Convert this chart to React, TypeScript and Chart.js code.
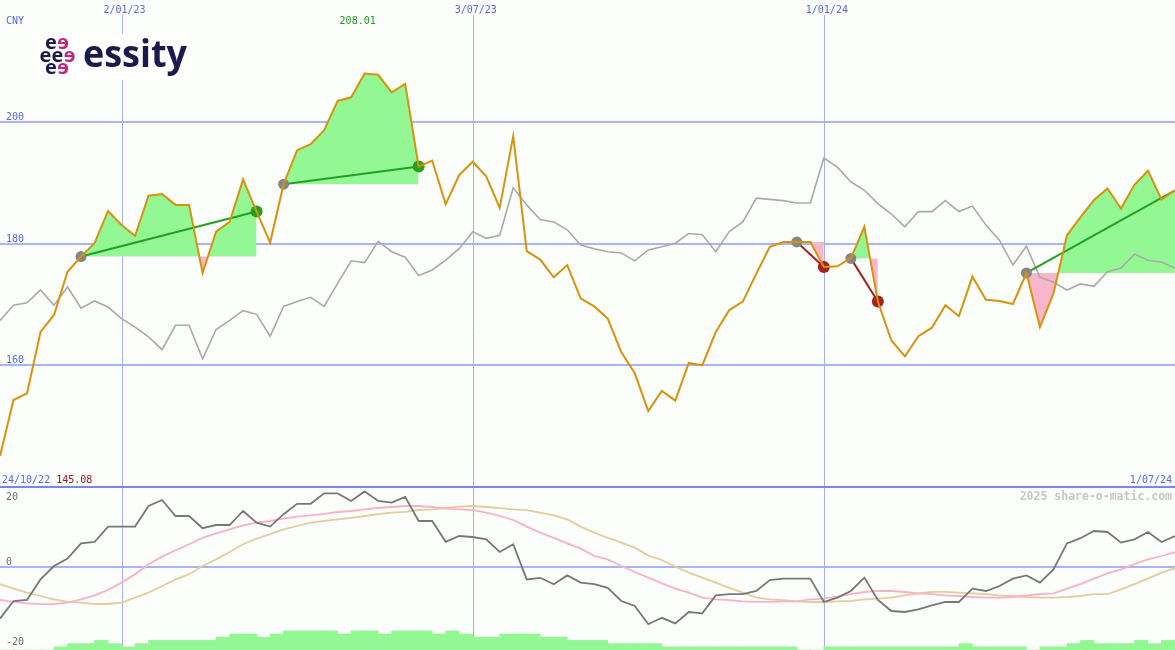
import React, { useEffect, useRef } from 'react';
import { Chart, registerables } from 'chart.js';

Chart.register(...registerables);

// ---------- data (weekly points, index 0 .. 87) ----------
const PRICE = [
  145.08, 154.3, 155.4, 165.5, 168.3, 175.4, 177.9, 180.1, 185.4, 183.1,
  181.3, 187.9, 188.2, 186.4, 186.4, 175.2, 182.0, 183.6, 190.6, 185.3,
  180.2, 189.8, 195.4, 196.4, 198.7, 203.5, 204.1, 208.01, 207.8, 204.9,
  206.3, 192.7, 193.7, 186.5, 191.3, 193.5, 191.1, 185.9, 197.7, 178.8,
  177.4, 174.5, 176.5, 171.0, 169.7, 167.7, 162.2, 158.7, 152.5, 155.8,
  154.2, 160.4, 160.0, 165.5, 169.1, 170.5, 175.1, 179.5, 180.3, 180.3,
  180.3, 176.2, 176.3, 177.6, 182.8, 170.5, 164.1, 161.5, 164.8, 166.2,
  169.9, 168.1, 174.6, 170.8, 170.6, 170.1, 175.2, 166.3, 171.8, 181.4,
  184.4, 187.2, 189.1, 185.8, 189.7, 192.0, 187.3, 188.8,
];

const RELATIVE = [
  167.4, 169.9, 170.3, 172.4, 169.9, 172.9, 169.4, 170.6, 169.6, 167.7,
  166.3, 164.7, 162.6, 166.6, 166.6, 161.1, 165.9, 167.4, 169.0, 168.4,
  164.8, 169.7, 170.5, 171.2, 169.7, 173.5, 177.2, 176.9, 180.4, 178.7,
  177.8, 174.8, 175.7, 177.3, 179.2, 182.0, 180.9, 181.4, 189.2, 186.4,
  184.0, 183.6, 182.3, 179.8, 179.2, 178.7, 178.5, 177.2, 179.0, 179.5,
  180.1, 181.7, 181.5, 178.7, 182.0, 183.6, 187.5, 187.3, 187.1, 186.7,
  186.7, 194.1, 192.6, 190.2, 188.8, 186.6, 184.9, 182.8, 185.3, 185.3,
  187.1, 185.3, 186.2, 183.1, 180.6, 176.5, 179.6, 174.5, 173.7, 172.4,
  173.4, 173.0, 175.4, 176.0, 178.3, 177.3, 177.0, 176.0,
];

const MOMENTUM = [
  -12.9, -8.5, -8.25, -3.1, 0.25, 2.1, 5.9, 6.25, 10.1, 10.1,
  10.1, 15.25, 16.75, 12.75, 12.75, 9.7, 10.5, 10.5, 14.0, 11.1,
  10.1, 13.2, 15.8, 15.8, 18.4, 18.4, 16.5, 18.9, 16.5, 16.1,
  17.5, 11.5, 11.5, 6.3, 7.75, 7.5, 6.9, 3.75, 5.7, -3.1,
  -2.7, -4.3, -2.1, -3.9, -4.3, -5.2, -8.5, -9.75, -14.3, -12.7,
  -14.1, -11.25, -11.6, -7.1, -6.8, -6.8, -6.0, -3.25, -2.9, -2.9,
  -2.9, -8.75, -7.65, -6.0, -2.65, -8.25, -11.0, -11.25, -10.6, -9.6,
  -8.75, -8.75, -5.4, -6.0, -4.75, -2.9, -2.1, -3.9, -0.6, 5.9,
  7.2, 9.0, 8.75, 6.1, 6.9, 8.75, 6.25, 7.75,
];

const SIGNAL_FAST = [
  -8.25, -8.7, -9.1, -9.3, -9.3, -8.9, -8.1, -7.1, -5.75, -3.9,
  -1.8, 0.7, 2.6, 4.2, 5.7, 7.3, 8.4, 9.4, 10.4, 11.1,
  11.5, 12.1, 12.6, 12.9, 13.3, 13.75, 14.0, 14.4, 14.75, 15.0,
  15.25, 15.25, 15.0, 14.6, 14.4, 14.2, 13.6, 12.75, 11.75, 10.1,
  8.6, 7.3, 5.9, 4.6, 2.75, 1.9, 0.25, -1.25, -2.65, -4.1,
  -5.4, -6.4, -7.65, -8.1, -8.3, -8.6, -8.7, -8.7, -8.6, -8.6,
  -8.1, -7.9, -7.4, -6.8, -6.25, -6.0, -6.0, -6.25, -6.6, -6.8,
  -7.1, -7.25, -7.5, -7.65, -7.65, -7.5, -7.1, -6.8, -6.6, -5.4,
  -4.3, -2.9, -1.6, -0.6, 0.7, 1.9, 2.75, 3.75,
];

const SIGNAL_SLOW = [
  -4.3, -5.4, -6.4, -7.25, -8.1, -8.7, -8.9, -9.25, -9.25, -8.9,
  -7.65, -6.4, -4.75, -3.1, -1.8, 0.25, 1.9, 3.75, 5.7, 7.1,
  8.2, 9.4, 10.25, 11.1, 11.5, 11.9, 12.3, 12.75, 13.2, 13.6,
  13.8, 14.25, 14.4, 14.75, 15.1, 15.25, 15.0, 14.7, 14.4, 14.2,
  13.6, 12.9, 11.9, 10.1, 8.6, 7.3, 6.1, 4.85, 2.9, 1.75,
  0.1, -1.4, -2.65, -3.9, -5.2, -6.4, -7.65, -8.1, -8.3, -8.6,
  -8.75, -8.75, -8.6, -8.5, -8.1, -7.9, -7.65, -7.1, -6.6, -6.2,
  -6.2, -6.4, -6.6, -6.8, -7.1, -7.25, -7.5, -7.65, -7.65, -7.5,
  -7.25, -6.8, -6.8, -5.6, -4.3, -2.9, -1.4, -0.3,
];

// activity bars, one per week interval (level units)
const VOLUME_LEVEL = [
  0, 0, 0, 0, 1, 2, 2, 3, 2, 1,
  2, 3, 3, 3, 3, 3, 4, 5, 5, 4,
  5, 6, 6, 6, 6, 5, 6, 6, 5, 6,
  6, 6, 5, 6, 5, 4, 4, 5, 5, 5,
  4, 4, 3, 3, 3, 2, 2, 2, 2, 1,
  1, 1, 1, 1, 1, 1, 1, 1, 1, 0,
  0, 1, 1, 1, 1, 1, 1, 1, 1, 1,
  1, 2, 1, 1, 1, 1, 0, 1, 1, 2,
  3, 2, 2, 2, 3, 2, 3,
];

const TRADE_ENTRY = [6, 21, 59, 63, 76];
const TRADE_EXIT = [19, 31, 61, 65, 87];
const TRADE_OPEN = [false, false, false, false, true];

const DATE_TICK_POS = [9, 35, 61];
const DATE_TICK_LABELS = ['2/01/23', '3/07/23', '1/01/24'];
const PRICE_GRID = [200, 180, 160];
const OSC_TICKS = [20, 0, -20];
const FIRST_DATE = '24/10/22';
const LAST_DATE = '1/07/24';
const CURRENCY = 'CNY';
const WATERMARK = '2025 share-o-matic.com';

const X_MAX = PRICE.length - 1;
const Y_MIN = 140;
const Y_MAX = 220.1;
const Y2_MIN = -20.75;
const Y2_MAX = 20;
const VOL_UNIT = 0.8;

// ---------- styles ----------
const BG = '#fcfefc';
const GRID = '#a9b5f3';
const VGRID = '#a3b0f3';
const SEP = '#7686ee';
const BLUE = '#5566ee';
const PRICE_COLOR = '#d8920c';
const REL_COLOR = '#a9a9a9';
const FILL_UP = '#93f893';
const FILL_DOWN = '#f8b6ca';
const WIN = '#22a022';
const LOSS = '#a32222';
const ENTRY_DOT = '#868686';
const MONO = '"DejaVu Sans Mono", "Liberation Mono", monospace';

const pts = (arr: number[]) => arr.map((v, i) => ({ x: i, y: v }));

function drawLogo(ctx: CanvasRenderingContext2D) {
  ctx.save();
  ctx.fillStyle = '#ffffff';
  ctx.fillRect(36, 34, 154, 46);
  const navy = '#1c1a4c';
  const mag = '#c4267c';
  ctx.font = 'bold 20px "Open Sans", sans-serif';
  ctx.textAlign = 'center';
  ctx.textBaseline = 'alphabetic';
  const es: [number, number, string, boolean][] = [
    [51, 49, navy, false], [63, 49, mag, true],
    [45.5, 61.5, navy, false], [57.5, 61.5, navy, false], [69.5, 61.5, mag, true],
    [51, 74, navy, false], [63, 74, mag, true],
  ];
  for (const [x, y, c, m] of es) {
    ctx.fillStyle = c;
    if (m) {
      ctx.save();
      ctx.translate(x, y);
      ctx.scale(-1, 1);
      ctx.fillText('e', 0, 0);
      ctx.restore();
    } else {
      ctx.fillText('e', x, y);
    }
  }
  ctx.font = 'bold 38px "Open Sans", sans-serif';
  ctx.textAlign = 'left';
  ctx.fillStyle = navy;
  const w = ctx.measureText('essity').width;
  ctx.translate(83, 67);
  ctx.scale(104 / w, 1);
  ctx.fillText('essity', 0, 0);
  ctx.restore();
}

const decorPlugin = {
  id: 'decor',
  beforeDraw(chart: any) {
    const { ctx, width, height } = chart;
    ctx.save();
    ctx.fillStyle = BG;
    ctx.fillRect(0, 0, width, height);
    ctx.restore();
  },
  beforeDatasetsDraw(chart: any) {
    const { ctx, width, height } = chart;
    const xs = chart.scales.x;
    const ys = chart.scales.y;
    const y2 = chart.scales.y2;
    ctx.save();
    ctx.lineWidth = 2;
    ctx.strokeStyle = GRID;
    const hl = (py: number) => {
      ctx.beginPath();
      ctx.moveTo(0, py);
      ctx.lineTo(width, py);
      ctx.stroke();
    };
    PRICE_GRID.forEach((v) => hl(Math.round(ys.getPixelForValue(v))));
    hl(Math.round(y2.getPixelForValue(0)));
    ctx.lineWidth = 1;
    ctx.strokeStyle = VGRID;
    DATE_TICK_POS.forEach((p) => {
      const px = Math.round(xs.getPixelForValue(p)) + 0.5;
      ctx.beginPath();
      ctx.moveTo(px, 15);
      ctx.lineTo(px, height);
      ctx.stroke();
    });
    ctx.lineWidth = 2;
    ctx.strokeStyle = SEP;
    const sy = Math.round(ys.bottom);
    ctx.beginPath();
    ctx.moveTo(0, sy);
    ctx.lineTo(width, sy);
    ctx.stroke();
    ctx.restore();
  },
  afterDatasetsDraw(chart: any) {
    const { ctx } = chart;
    const xs = chart.scales.x;
    const ys = chart.scales.y;
    const y2 = chart.scales.y2;
    ctx.save();
    ctx.font = `10px ${MONO}`;
    ctx.textBaseline = 'alphabetic';
    ctx.textAlign = 'left';
    ctx.fillStyle = BLUE;
    ctx.fillText(CURRENCY, 6, 24);
    PRICE_GRID.forEach((v) => {
      ctx.fillText(String(v), 6, Math.round(ys.getPixelForValue(v)) - 2);
    });
    ctx.textAlign = 'center';
    DATE_TICK_POS.forEach((p, k) => {
      ctx.fillText(DATE_TICK_LABELS[k], xs.getPixelForValue(p) + 3, 13);
    });
    // max price
    let iMax = 0;
    PRICE.forEach((v, i) => { if (v > PRICE[iMax]) iMax = i; });
    ctx.fillStyle = '#1f9a1f';
    ctx.fillText(PRICE[iMax].toFixed(2), xs.getPixelForValue(iMax) - 7, 24);
    // bottom line of the price panel
    const by = Math.round(ys.bottom) - 4;
    ctx.textAlign = 'left';
    ctx.fillStyle = BLUE;
    ctx.fillText(FIRST_DATE, 2, by);
    const w = ctx.measureText(FIRST_DATE + ' ').width;
    ctx.fillStyle = '#a01414';
    ctx.fillText(PRICE[0].toFixed(2), 2 + w, by);
    ctx.textAlign = 'right';
    ctx.fillStyle = BLUE;
    ctx.fillText(LAST_DATE, 1172, by);
    // oscillator ticks
    ctx.textAlign = 'left';
    ctx.fillStyle = '#6e6e6e';
    OSC_TICKS.forEach((v) => {
      const py = Math.round(y2.getPixelForValue(v));
      ctx.fillText(String(v), 6, Math.max(py - 2, y2.top + 13));
    });
    ctx.font = `bold 11.5px ${MONO}`;
    ctx.textAlign = 'right';
    ctx.fillStyle = '#c6c6c6';
    ctx.fillText(WATERMARK, 1172, y2.top + 13);
    ctx.restore();
    drawLogo(ctx);
  },
};

export default function App() {
  const ref = useRef<HTMLCanvasElement>(null);
  useEffect(() => {
    const canvas = ref.current;
    if (!canvas) return;

    const tradeLines = TRADE_ENTRY.map((s, k) => {
      const e = TRADE_EXIT[k];
      const win = PRICE[e] >= PRICE[s];
      const c = win ? WIN : LOSS;
      return {
        type: 'line' as const,
        data: [{ x: s, y: PRICE[s] }, { x: e, y: PRICE[e] }],
        yAxisID: 'y',
        borderColor: c,
        borderWidth: 2,
        pointRadius: [5.5, TRADE_OPEN[k] ? 0 : 6],
        pointBackgroundColor: [ENTRY_DOT, c],
        pointBorderWidth: 0,
        order: 2,
      };
    });

    const tradeFills = TRADE_ENTRY.map((s, k) => {
      const e = TRADE_EXIT[k];
      return {
        type: 'line' as const,
        data: PRICE.slice(s, e + 1).map((v, j) => ({ x: s + j, y: v })),
        yAxisID: 'y',
        borderColor: 'rgba(0,0,0,0)',
        borderWidth: 0,
        pointRadius: 0,
        fill: { target: { value: PRICE[s] }, above: FILL_UP, below: FILL_DOWN },
        order: 4,
      };
    });

    const chart = new Chart(canvas, {
      type: 'line',
      data: {
        datasets: [
          {
            type: 'line',
            data: pts(PRICE),
            yAxisID: 'y',
            borderColor: PRICE_COLOR,
            borderWidth: 2,
            pointRadius: 0,
            order: 1,
          },
          ...tradeLines,
          {
            type: 'line',
            data: pts(RELATIVE),
            yAxisID: 'y',
            borderColor: REL_COLOR,
            borderWidth: 1.6,
            pointRadius: 0,
            order: 3,
          },
          ...tradeFills,
          {
            type: 'line',
            data: pts(MOMENTUM),
            yAxisID: 'y2',
            borderColor: '#777777',
            borderWidth: 1.8,
            pointRadius: 0,
            order: 5,
          },
          {
            type: 'line',
            data: pts(SIGNAL_FAST),
            yAxisID: 'y2',
            borderColor: '#f8b2c8',
            borderWidth: 1.8,
            pointRadius: 0,
            order: 6,
          },
          {
            type: 'line',
            data: pts(SIGNAL_SLOW),
            yAxisID: 'y2',
            borderColor: '#e4cc9c',
            borderWidth: 1.8,
            pointRadius: 0,
            order: 7,
          },
          {
            type: 'bar',
            data: VOLUME_LEVEL.map((v, j) => ({ x: j + 0.5, y: [Y2_MIN, Y2_MIN + v * VOL_UNIT] })),
            yAxisID: 'y2',
            backgroundColor: FILL_UP,
            borderWidth: 0,
            barPercentage: 1,
            categoryPercentage: 1,
            order: 8,
          } as any,
        ] as any,
      },
      options: {
        animation: false,
        responsive: false,
        maintainAspectRatio: false,
        devicePixelRatio: 1,
        events: [],
        layout: { padding: 0, autoPadding: false },
        plugins: { legend: { display: false }, tooltip: { enabled: false } },
        elements: { point: { radius: 0 }, line: { tension: 0 } },
        scales: {
          x: { type: 'linear', min: 0, max: X_MAX, display: false, offset: false, grid: { offset: false } },
          y: { type: 'linear', min: Y_MIN, max: Y_MAX, display: false, stack: 'panels', stackWeight: 487, weight: 2 },
          y2: { type: 'linear', min: Y2_MIN, max: Y2_MAX, display: false, stack: 'panels', stackWeight: 163, weight: 1 },
        } as any,
      },
      plugins: [decorPlugin as any],
    });
    return () => chart.destroy();
  }, []);

  return (
    <div style={{ position: 'fixed', left: 0, top: 0, width: 1175, height: 650, background: BG }}>
      <canvas ref={ref} width={1175} height={650} style={{ display: 'block', width: 1175, height: 650 }} />
    </div>
  );
}
